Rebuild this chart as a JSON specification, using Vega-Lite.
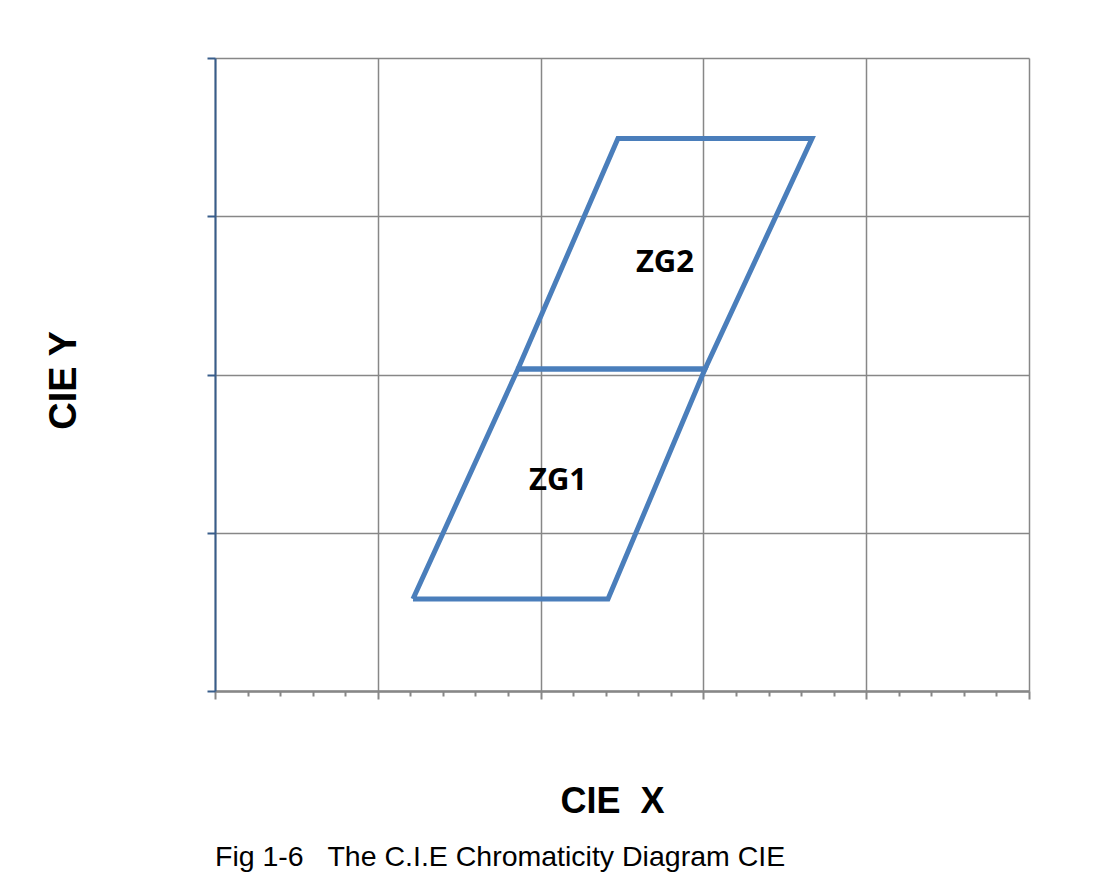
{
  "$schema": "https://vega.github.io/schema/vega-lite/v6.json",
  "width": 814,
  "height": 633,
  "autosize": {"type": "none"},
  "padding": {"left": 215, "top": 58, "right": 84, "bottom": 200},
  "background": "white",
  "config": {"view": {"stroke": null}, "font": "Liberation Sans"},
  "title": {
    "text": "Fig 1-6\u00a0\u00a0\u00a0The C.I.E Chromaticity Diagram CIE",
    "orient": "bottom",
    "anchor": "start",
    "frame": "group",
    "offset": 24,
    "font": "Liberation Sans",
    "fontSize": 28.5,
    "fontWeight": "normal",
    "color": "black",
    "baseline": "top"
  },
  "datasets": {
    "zones": [
      {"zone": "ZG1", "pt": 1, "x": 1.216, "y": 0.581},
      {"zone": "ZG1", "pt": 2, "x": 2.414, "y": 0.581},
      {"zone": "ZG1", "pt": 3, "x": 3.010, "y": 2.035},
      {"zone": "ZG1", "pt": 4, "x": 1.861, "y": 2.035},
      {"zone": "ZG1", "pt": 5, "x": 1.216, "y": 0.581},
      {"zone": "ZG2", "pt": 1, "x": 1.861, "y": 2.035},
      {"zone": "ZG2", "pt": 2, "x": 3.010, "y": 2.035},
      {"zone": "ZG2", "pt": 3, "x": 3.667, "y": 3.491},
      {"zone": "ZG2", "pt": 4, "x": 2.475, "y": 3.491},
      {"zone": "ZG2", "pt": 5, "x": 1.861, "y": 2.035}
    ],
    "labels": [
      {"label": "ZG2", "x": 2.764, "y": 2.705},
      {"label": "ZG1", "x": 2.107, "y": 1.327}
    ]
  },
  "layer": [
    {
      "data": {"name": "zones"},
      "mark": {"type": "line", "color": "#4a7ebb", "strokeWidth": 5, "strokeJoin": "miter"},
      "encoding": {
        "x": {
          "field": "x",
          "type": "quantitative",
          "scale": {"domain": [0, 5], "nice": false, "zero": false},
          "axis": {
            "title": "CIE\u00a0\u00a0X",
            "values": [0, 0.2, 0.4, 0.6, 0.8, 1, 1.2, 1.4, 1.6, 1.8, 2, 2.2, 2.4, 2.6, 2.8, 3, 3.2, 3.4, 3.6, 3.8, 4, 4.2, 4.4, 4.6, 4.8, 5],
            "tickCount": 40,
            "labels": false,
            "grid": true,
            "gridColor": "#878787",
            "gridWidth": 1.5,
            "gridOpacity": {"condition": {"test": "abs(datum.value - round(datum.value)) < 0.01", "value": 1}, "value": 0},
            "tickSize": {"condition": {"test": "abs(datum.value - round(datum.value)) < 0.01", "value": 8}, "value": 5},
            "tickColor": "#878787",
            "tickWidth": 2,
            "domainColor": "#878787",
            "domainWidth": 2.5,
            "titleFont": "Liberation Sans",
            "titleFontSize": 36,
            "titleFontWeight": "bold",
            "titleColor": "black",
            "titleX": 397,
            "titleY": 121,
            "titleBaseline": "alphabetic",
            "titleAlign": "center"
          }
        },
        "y": {
          "field": "y",
          "type": "quantitative",
          "scale": {"domain": [0, 4], "nice": false, "zero": false},
          "axis": {
            "title": "CIE Y",
            "values": [0, 1, 2, 3, 4],
            "labels": false,
            "grid": true,
            "gridColor": "#878787",
            "gridWidth": 1.5,
            "tickSize": 8,
            "tickColor": "#385d8a",
            "tickWidth": 2,
            "domainColor": "#385d8a",
            "domainWidth": 2,
            "titleFont": "Liberation Sans",
            "titleFontSize": 38,
            "titleFontWeight": "bold",
            "titleColor": "black",
            "titleAngle": -90,
            "titleX": -140,
            "titleY": 322,
            "titleBaseline": "alphabetic",
            "titleAlign": "center"
          }
        },
        "detail": {"field": "zone"},
        "order": {"field": "pt", "type": "quantitative"}
      }
    },
    {
      "data": {"name": "labels"},
      "mark": {"type": "text", "font": "Open Sans", "fontWeight": "bold", "fontSize": 31, "color": "black"},
      "encoding": {
        "x": {"field": "x", "type": "quantitative"},
        "y": {"field": "y", "type": "quantitative"},
        "text": {"field": "label"}
      }
    }
  ]
}
